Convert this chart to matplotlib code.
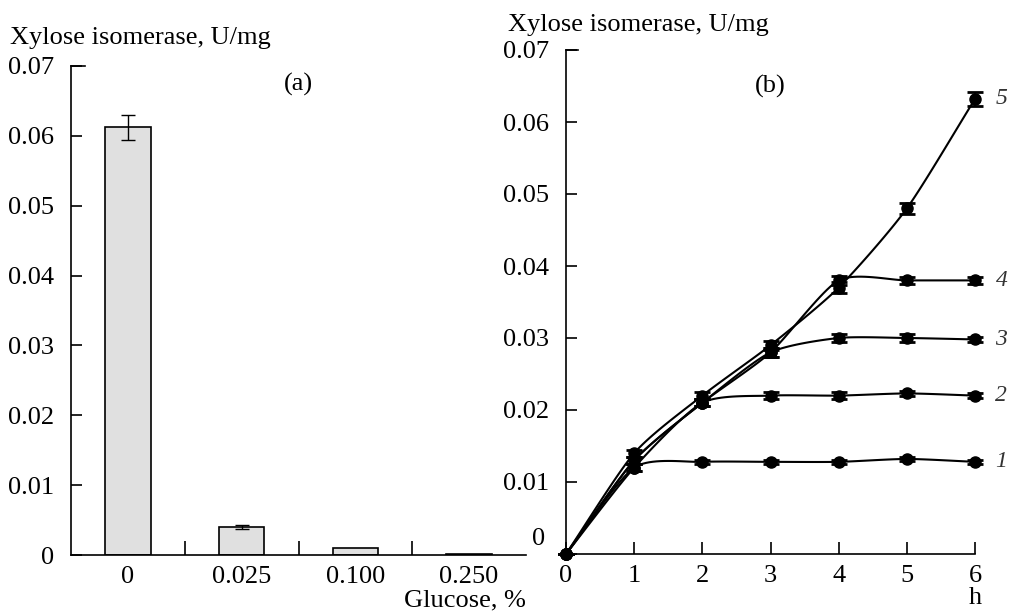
import numpy as np
import matplotlib.pyplot as plt

plt.rcParams['font.family'] = ['Liberation Serif', 'DejaVu Serif']
plt.rcParams['font.size'] = 19

# panel (a): xylose isomerase vs glucose
glucose = ['0', '0.025', '0.100', '0.250']
activity = [0.0612, 0.0040, 0.0010, 0.0002]
activity_err = [0.0018, 0.0003, 0.0, 0.0]

# panel (b): time course, curves 1..5
hours = [0, 1, 2, 3, 4, 5, 6]
curves = {
    '1': [0, 0.0120, 0.0128, 0.0128, 0.0128, 0.0132, 0.0128],
    '2': [0, 0.0120, 0.0210, 0.0220, 0.0220, 0.0223, 0.0220],
    '3': [0, 0.0130, 0.0210, 0.0280, 0.0300, 0.0300, 0.0298],
    '4': [0, 0.0130, 0.0210, 0.0280, 0.0380, 0.0380, 0.0380],
    '5': [0, 0.0140, 0.0220, 0.0290, 0.0370, 0.0480, 0.0632],
}
curve_err = {
    '1': [0, 0.0005, 0.0003, 0.0003, 0.0003, 0.0003, 0.0003],
    '2': [0, 0.0005, 0.0005, 0.0005, 0.0005, 0.0004, 0.0004],
    '3': [0, 0.0005, 0.0005, 0.0006, 0.0006, 0.0006, 0.0004],
    '4': [0, 0.0005, 0.0005, 0.0006, 0.0006, 0.0005, 0.0005],
    '5': [0, 0.0005, 0.0005, 0.0006, 0.0008, 0.0008, 0.0010],
}


def smooth(x, y, n=20, k=0.7):
    # cardinal spline through the points, only for drawing the line
    x = np.asarray(x, float)
    y = np.asarray(y, float)
    px = np.concatenate([[2 * x[0] - x[1]], x, [2 * x[-1] - x[-2]]])
    py = np.concatenate([[2 * y[0] - y[1]], y, [2 * y[-1] - y[-2]]])
    t = np.linspace(0, 1, n, endpoint=False)
    h00 = 2 * t ** 3 - 3 * t ** 2 + 1
    h10 = t ** 3 - 2 * t ** 2 + t
    h01 = -2 * t ** 3 + 3 * t ** 2
    h11 = t ** 3 - t ** 2
    xs, ys = [], []
    for i in range(1, len(px) - 2):
        for p, out in ((px, xs), (py, ys)):
            m1 = k * (p[i + 1] - p[i - 1]) / 2
            m2 = k * (p[i + 2] - p[i]) / 2
            out.extend(h00 * p[i] + h10 * m1 + h01 * p[i + 1] + h11 * m2)
    xs.append(x[-1])
    ys.append(y[-1])
    return np.array(xs), np.array(ys)


fig = plt.figure(figsize=(10.19, 6.16), dpi=100)

# ---- panel (a)
ax1 = fig.add_axes([71 / 1019, 61 / 616, 455 / 1019, 489 / 616])
pos = np.arange(len(glucose))
ax1.bar(pos, activity, width=0.4, color='#e0e0e0', edgecolor='black', linewidth=1.2)
ax1.errorbar(pos[:2], activity[:2], yerr=activity_err[:2], fmt='none',
             ecolor='black', elinewidth=1, capsize=5)
ax1.set_xlim(-0.5, 3.5)
ax1.set_ylim(0, 0.07)
ax1.set_yticks([0, 0.01, 0.02, 0.03, 0.04, 0.05, 0.06, 0.07])
ax1.set_yticklabels(['0', '0.01', '0.02', '0.03', '0.04', '0.05', '0.06', '0.07'])
ax1.set_xticks(pos)
ax1.set_xticklabels(glucose)
ax1.set_xticks([0.5, 1.5, 2.5], minor=True)
ax1.tick_params(axis='x', which='major', length=0, pad=8)
ax1.tick_params(axis='x', which='minor', direction='in', length=10, width=1.2)
ax1.tick_params(axis='y', direction='in', length=8, width=1.2, pad=12)
for s in ['top', 'right']:
    ax1.spines[s].set_visible(False)
for s in ['left', 'bottom']:
    ax1.spines[s].set_linewidth(1.2)
ax1.plot([0, 0.03], [1, 1], transform=ax1.transAxes, color='black', lw=1.2,
         clip_on=False)
ax1.text(0.5, 0.985, '(a)', transform=ax1.transAxes, ha='center', va='top')
fig.text(10 / 1019, 1 - 38 / 616, 'Xylose isomerase, U/mg', ha='left', va='center')
fig.text(526 / 1019, 1 - 600 / 616, 'Glucose, %', ha='right', va='center')

# ---- panel (b)
ax2 = fig.add_axes([566 / 1019, 62 / 616, 409 / 1019, 504 / 616])
for name, vals in curves.items():
    sx, sy = smooth(hours, vals)
    ax2.plot(sx, sy, color='black', lw=1.5, clip_on=False)
    ax2.errorbar(hours, vals, yerr=curve_err[name], fmt='o', color='black',
                 markersize=8, elinewidth=1.5, capsize=6, capthick=2,
                 clip_on=False)
    ax2.text(6.3, vals[-1], name, style='italic', fontsize=17, ha='left',
             va='center', color='#333333')
ax2.set_xlim(0, 6)
ax2.set_ylim(0, 0.07)
ax2.set_xticks(hours)
ax2.set_yticks([0, 0.01, 0.02, 0.03, 0.04, 0.05, 0.06, 0.07])
ax2.set_yticklabels(['', '0.01', '0.02', '0.03', '0.04', '0.05', '0.06', '0.07'])
ax2.annotate('0', xy=(0, 0), xycoords=('axes fraction', 'data'),
             xytext=(-15, 11), textcoords='offset points', ha='right', va='center')
ax2.tick_params(axis='x', direction='in', length=9, width=1.2, pad=8)
ax2.tick_params(axis='y', direction='in', length=8, width=1.2, pad=12)
for s in ['top', 'right']:
    ax2.spines[s].set_visible(False)
for s in ['left', 'bottom']:
    ax2.spines[s].set_linewidth(1.2)
ax2.plot([0, 0.03], [1, 1], transform=ax2.transAxes, color='black', lw=1.2,
         clip_on=False)
ax2.text(0.5, 0.95, '(b)', transform=ax2.transAxes, ha='center', va='top')
fig.text(508 / 1019, 1 - 25 / 616, 'Xylose isomerase, U/mg', ha='left', va='center')
fig.text(975 / 1019, 1 - 598 / 616, 'h', ha='center', va='center')

fig.savefig('out.png', dpi=100)
